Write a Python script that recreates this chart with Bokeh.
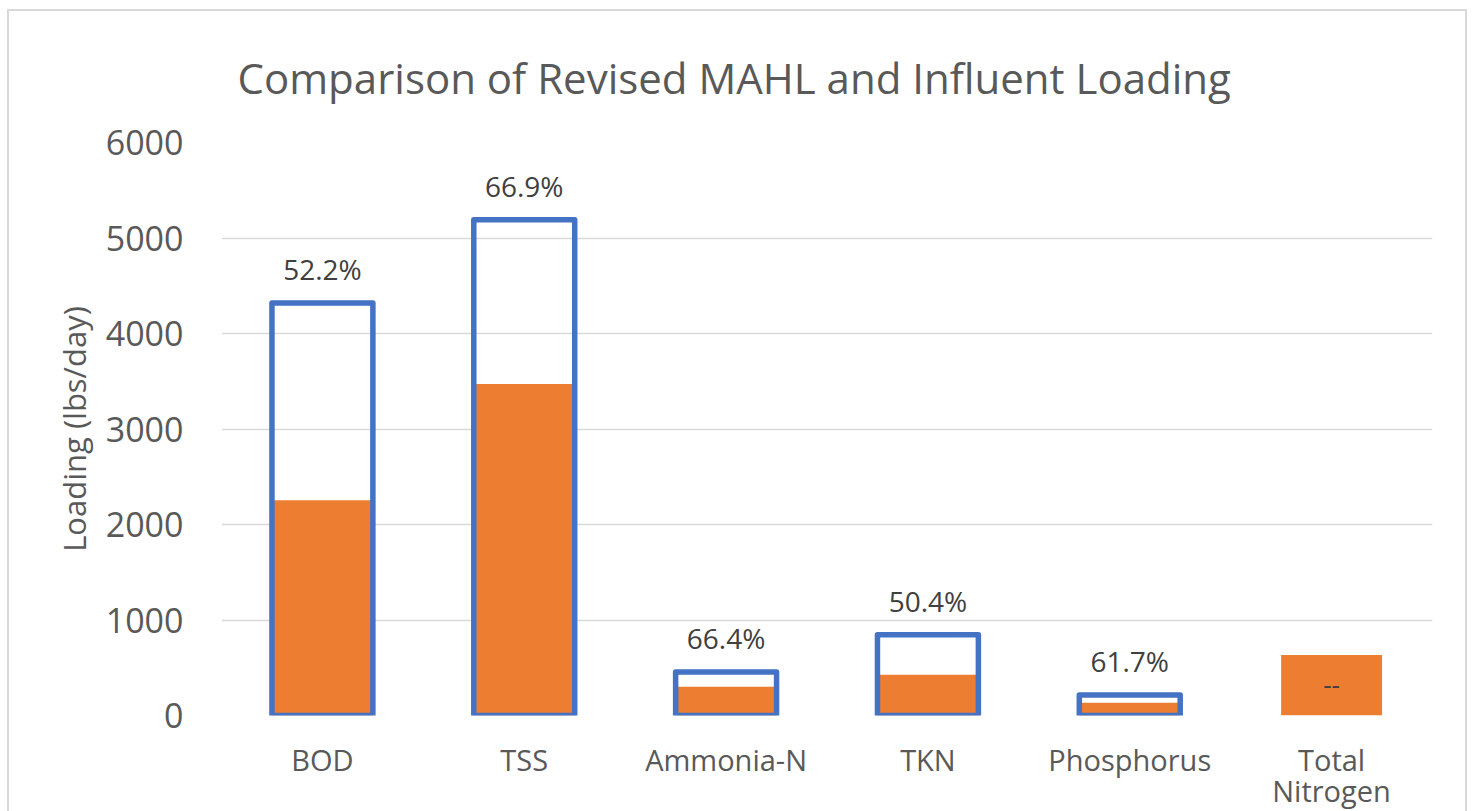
from bokeh.plotting import figure
from bokeh.models import Range1d, FactorRange, SingleIntervalTicker, Title, ColumnDataSource
from bokeh.core.properties import value
from bokeh.embed import file_html
from bokeh.resources import INLINE

categories = ["BOD", "TSS", "Ammonia-N", "TKN", "Phosphorus", "Total\nNitrogen"]
mahl = [4320, 5190, 455, 845, 215, None]
influent = [2255, 3472, 302, 426, 133, 634]
pct_labels = ["52.2%", "66.9%", "66.4%", "50.4%", "61.7%", "--"]

FONT = "Open Sans"
TXT = "#595959"
BLUE = "#4472C4"
ORANGE = "#ED7D31"

p = figure(x_range=FactorRange(*categories), y_range=Range1d(0, 6000),
           width=1460, height=802, output_backend="svg", toolbar_location=None,
           min_border_left=212, min_border_right=37, min_border_top=131, min_border_bottom=96)
p.styles = {"border-top": "2px solid #d9d9d9", "border-left": "2px solid #d9d9d9",
            "border-right": "2px solid #d9d9d9", "box-sizing": "border-box",
            "margin-left": "7px", "margin-top": "9px"}
p.outline_line_color = None
p.background_fill_color = "white"
p.border_fill_color = "white"

t = Title(text="Comparison of Revised MAHL and Influent Loading", align="left", offset=16,
          text_font=FONT, text_font_size="42px", text_font_style="normal",
          text_color=TXT, standoff=72, vertical_align="middle")
p.add_layout(t, "above")

# influent bars
inf_src = ColumnDataSource(dict(x=categories, top=influent))
p.vbar(x="x", top="top", width=0.5, source=inf_src, fill_color=ORANGE, line_color=None)

# MAHL outline bars
mx = [c for c, m in zip(categories, mahl) if m is not None]
mv = [m for m in mahl if m is not None]
ml = [l for l, m in zip(pct_labels, mahl) if m is not None]
m_src = ColumnDataSource(dict(x=mx, top=mv, lab=ml))
p.vbar(x="x", top="top", width=0.5, source=m_src, fill_alpha=0, line_color=BLUE,
       line_width=5.5, line_join="round")
p.text(x="x", y="top", text="lab", source=m_src, text_font=value(FONT),
       text_font_size="28px", text_color="#404040", text_align="center",
       text_baseline="alphabetic", y_offset=-34)

# labels for series without MAHL
nx = [c for c, m in zip(categories, mahl) if m is None]
ny = [i / 2 for i, m in zip(influent, mahl) if m is None]
nl = [l for l, m in zip(pct_labels, mahl) if m is None]
p.text(x=nx, y=ny, text=nl, text_font=value(FONT), text_font_size="26px",
       text_color="#404040", text_align="center", text_baseline="middle")

p.xgrid.grid_line_color = None
p.ygrid.grid_line_color = "#d9d9d9"
p.ygrid.grid_line_width = 1.5
p.yaxis.ticker = SingleIntervalTicker(interval=1000)

for ax in (p.xaxis, p.yaxis):
    ax.axis_line_color = None
    ax.major_tick_line_color = None
    ax.minor_tick_line_color = None
    ax.major_tick_out = 0
    ax.major_tick_in = 0
    ax.minor_tick_out = 0
    ax.minor_tick_in = 0

p.yaxis.major_label_text_font = FONT
p.yaxis.major_label_text_font_size = "34px"
p.yaxis.major_label_text_color = TXT
p.yaxis.major_label_standoff = 38
p.yaxis.axis_label = "Loading (lbs/day)"
p.yaxis.axis_label_text_font = FONT
p.yaxis.axis_label_text_font_size = "31px"
p.yaxis.axis_label_text_font_style = "normal"
p.yaxis.axis_label_text_color = TXT
p.yaxis.axis_label_standoff = 8

p.xaxis.major_label_text_font = FONT
p.xaxis.major_label_text_font_size = "29px"
p.xaxis.major_label_text_color = TXT
p.xaxis.major_label_text_line_height = 0.82
p.xaxis.major_label_standoff = 24

open("out.html", "w").write(file_html(p, INLINE))
